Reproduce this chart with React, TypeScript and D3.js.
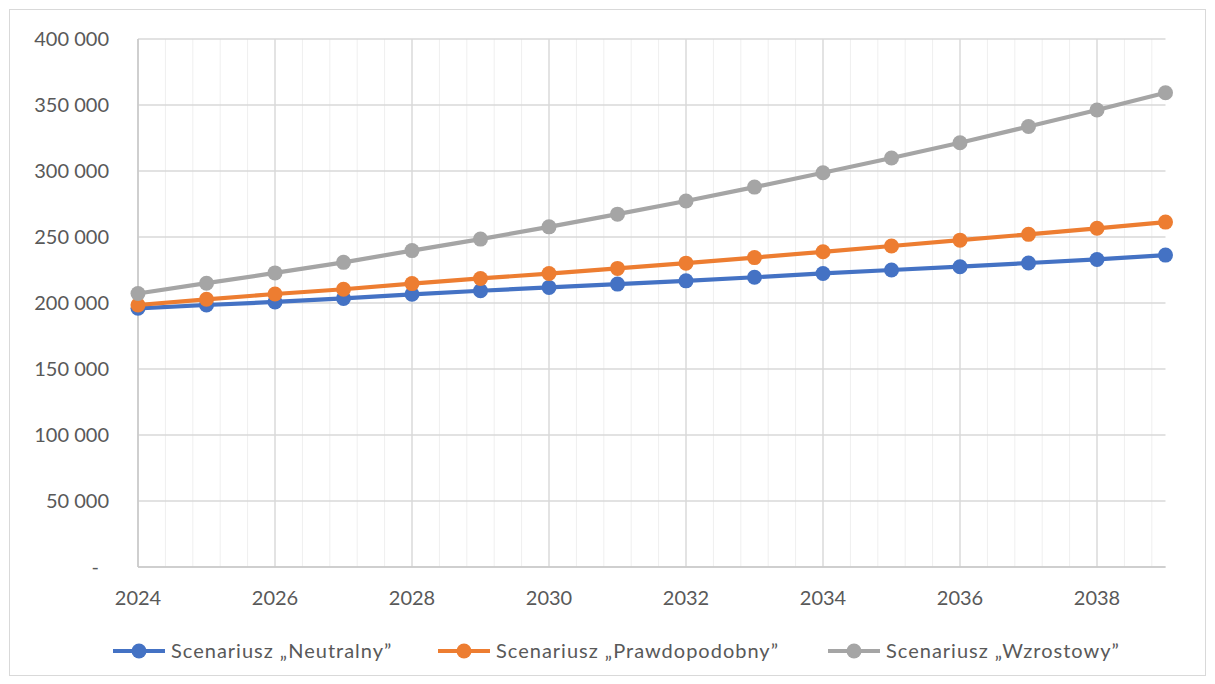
import React from "react";
import * as d3 from "d3";

const years = [2024, 2025, 2026, 2027, 2028, 2029, 2030, 2031, 2032, 2033, 2034, 2035, 2036, 2037, 2038, 2039];
const neutralny = [196000, 198500, 200800, 203500, 206600, 209300, 211800, 214300, 216800, 219500, 222400, 225000, 227500, 230300, 233000, 236300];
const prawdopodobny = [198500, 202800, 206800, 210400, 214700, 218600, 222300, 226200, 230200, 234400, 238800, 243200, 247600, 252000, 256600, 261300];
const wzrostowy = [207200, 215000, 222800, 230800, 239700, 248400, 257700, 267300, 277300, 287800, 298700, 309900, 321400, 333700, 346200, 359300];
const seriesNames = ["Scenariusz \u201eNeutralny\u201d", "Scenariusz \u201ePrawdopodobny\u201d", "Scenariusz \u201eWzrostowy\u201d"];
const yTicks = [0, 50000, 100000, 150000, 200000, 250000, 300000, 350000, 400000];
const xLabelYears = [2024, 2026, 2028, 2030, 2032, 2034, 2036, 2038];

const colors = ["#4472C4", "#ED7D31", "#A5A5A5"];
const FONT = "Lato, 'Open Sans', sans-serif";

export default function App() {
  const W = 1215, H = 684;
  const x = d3.scaleLinear().domain([2024, 2039]).range([138, 1165.5]);
  const y = d3.scaleLinear().domain([0, 400000]).range([567, 39]);
  const allSeries = [neutralny, prawdopodobny, wzrostowy];
  const line = d3.line<number>().x((_, i) => x(years[i])).y((d) => y(d));
  const minor = d3.range(0, 38).map((k) => 2024 + k * 0.4);
  const fmt = (v: number) => (v === 0 ? "-" : d3.format(",")(v).replace(/,/g, " "));
  const legendX = [113, 438, 828];

  return (
    <svg width={W} height={H} style={{ position: "absolute", left: 0, top: 0, background: "#fff" }} fontFamily={FONT}>
      <rect x={9.5} y={9.5} width={1196} height={666} fill="#fff" stroke="#d9d9d9" strokeWidth={1} />
      {minor.map((m, i) => (
        <line key={"mn" + i} x1={x(m)} x2={x(m)} y1={y(400000)} y2={y(0)} stroke="#efefef" strokeWidth={1} />
      ))}
      {xLabelYears.map((yr) => (
        <line key={"mj" + yr} x1={x(yr)} x2={x(yr)} y1={y(400000)} y2={y(0)} stroke="#d9d9d9" strokeWidth={1.3} />
      ))}
      {yTicks.map((t) => (
        <line key={"h" + t} x1={x(2024)} x2={x(2039)} y1={y(t)} y2={y(t)} stroke="#d9d9d9" strokeWidth={1.3} />
      ))}
      <line x1={x(2024)} x2={x(2024)} y1={y(400000)} y2={y(0)} stroke="#c8c8c8" strokeWidth={1.5} />
      <line x1={x(2024)} x2={x(2039)} y1={y(0)} y2={y(0)} stroke="#c8c8c8" strokeWidth={1.5} />
      {yTicks.map((t) => (
        <text key={"yl" + t} x={t === 0 ? 99 : 109} y={y(t)} dy="0.35em" textAnchor="end" fontSize={20} fill="#595959">
          {fmt(t)}
        </text>
      ))}
      {xLabelYears.map((yr) => (
        <text key={"xl" + yr} x={x(yr)} y={605} textAnchor="middle" fontSize={20} fill="#595959">
          {yr}
        </text>
      ))}
      {allSeries.map((s, si) => (
        <g key={"s" + si}>
          <path d={line(s) || ""} fill="none" stroke={colors[si]} strokeWidth={4.2} strokeLinejoin="round" />
          {s.map((v, i) => (
            <circle key={i} cx={x(years[i])} cy={y(v)} r={7.5} fill={colors[si]} />
          ))}
        </g>
      ))}
      {seriesNames.map((n, si) => (
        <g key={"lg" + si} transform={`translate(${legendX[si]},651)`}>
          <line x1={0} x2={52} y1={0} y2={0} stroke={colors[si]} strokeWidth={4.2} />
          <circle cx={26} cy={0} r={7.5} fill={colors[si]} />
          <text x={58} y={0} dy="0.35em" fontSize={20} letterSpacing={1} fill="#595959">{n}</text>
        </g>
      ))}
    </svg>
  );
}
